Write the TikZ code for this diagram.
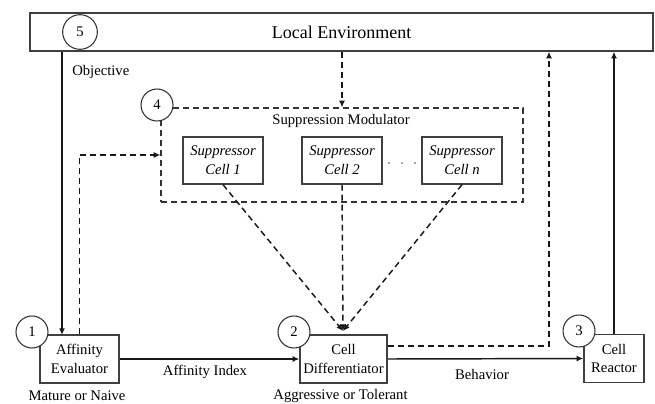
\documentclass[tikz,border=0pt]{standalone}
\usepackage{fontspec}
\setmainfont{Liberation Serif}
\usetikzlibrary{arrows.meta}
\begin{document}
\begin{tikzpicture}[x=0.75pt,y=-0.75pt,
  box/.style={draw=black!75,line width=1pt,fill=white,align=center,inner sep=1pt,font=\fontsize{11}{14}\selectfont},
  num/.style={circle,draw=black!80,line width=0.8pt,fill=white,minimum size=24pt,inner sep=0pt,font=\fontsize{11}{13}\selectfont},
  lbl/.style={font=\fontsize{11}{13}\selectfont,inner sep=0pt},
  conn/.style={line width=1.1pt,draw=black!90,-{Latex[length=5pt,width=4.5pt]}},
  dconn/.style={conn,dash pattern=on 4.5pt off 3pt},
  cellbox/.style={box,minimum width=60pt,minimum height=35.25pt,font=\fontsize{11}{14}\selectfont\itshape},
]
\useasboundingbox (0,0) rectangle (655,403);
% local environment
\node[box,minimum width=467.25pt,minimum height=28.5pt,font=\fontsize{13.5}{16}\selectfont] (env) at (341.5,32) {Local Environment};
\node[num,minimum size=26pt] (n5) at (80,32) {5};
% suppression modulator
\node[draw=black!80,line width=0.9pt,dash pattern=on 4.5pt off 3pt,minimum width=271.5pt,minimum height=70.5pt] (supp) at (342,155) {};
\node[lbl] (supt) at (341,121) {Suppression Modulator};
\node[num] (n4) at (157,105) {4};
\node[cellbox] (c1) at (223,160.5) {Suppressor\\Cell 1};
\node[cellbox] (c2) at (342,160.5) {Suppressor\\Cell 2};
\node[cellbox] (cn) at (462,160.5) {Suppressor\\Cell n};
\foreach \xx in {389,402,415} \fill[black!70] (\xx,163) circle (0.6pt);
% bottom row
\node[box,minimum width=59.25pt,minimum height=36pt] (aff) at (79.5,359) {Affinity\\Evaluator};
\node[num] (n1) at (32,332) {1};
\node[box,minimum width=65.25pt,minimum height=36pt] (diff) at (343.5,359) {Cell\\Differentiator};
\node[num] (n2) at (294,332) {2};
\node[box,minimum width=45pt,minimum height=36pt] (reac) at (614,358.5) {Cell\\Reactor};
\node[num] (n3) at (579,331) {3};
% labels
\node[lbl,anchor=west] (obj) at (72,72) {Objective};
\node[lbl] (mat) at (77,396) {Mature or Naive};
\node[lbl] (agg) at (340.5,396) {Aggressive or Tolerant};
\node[lbl] (ai) at (205,372) {Affinity Index};
\node[lbl] (beh) at (482,374) {Behavior};
% coordinates
\coordinate (o1) at (62,335);
\coordinate (conv) at (343,331);
\coordinate (fb) at (549,346);
% connectors
\draw[conn] (env.south -| o1) -- (o1);
\draw[dconn] (aff.north) |- (supp.west);
\draw[dconn] (env.south -| supp.north) -- (supp.north);
\draw[dconn] (c1.south) -- (conv);
\draw[dconn] (c2.south) -- (conv);
\draw[dconn] (cn.south) -- (conv);
\draw[dconn] (diff.east |- fb) -- (fb) -- (env.south -| fb);
\draw[conn] (reac.north) -- (env.south -| reac.north);
\draw[conn] (aff.east) -- (diff.west);
\draw[conn] (diff.east) -- (reac.west);
\end{tikzpicture}
\end{document}
